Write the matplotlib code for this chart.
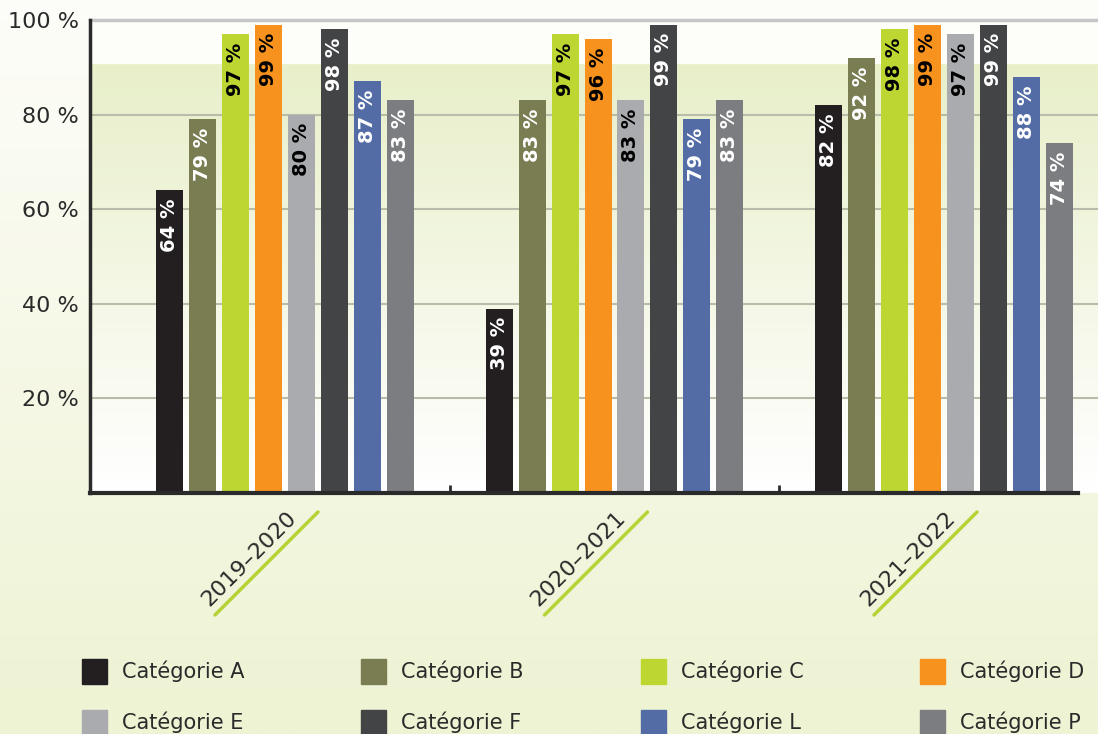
import numpy as np
import matplotlib.pyplot as plt
import matplotlib.transforms as mtransforms
from matplotlib.colors import LinearSegmentedColormap
from matplotlib.patches import Rectangle

plt.rcParams['font.family'] = ['DejaVu Sans']

# ===== データ =====
SEASONS    = ["2019–2020", "2020–2021", "2021–2022"]
CATEGORIES = ["Catégorie A", "Catégorie B", "Catégorie C", "Catégorie D",
              "Catégorie E", "Catégorie F", "Catégorie L", "Catégorie P"]
VAL_2019 = [64, 79, 97, 99, 80, 98, 87, 83]
VAL_2020 = [39, 83, 97, 96, 83, 99, 79, 83]
VAL_2021 = [82, 92, 98, 99, 97, 99, 88, 74]
Y_TICKS  = [20, 40, 60, 80, 100]

# ===== スタイル =====
COLORS = ["#231f20", "#7a7d52", "#bdd631", "#f7921e",
          "#aaabae", "#434446", "#536ca6", "#7c7d81"]
LABEL_COLORS = ["white", "white", "black", "black",
                "black", "white", "white", "white"]
TEXT_COLOR = "#2a2a2a"
W, H = 1098, 734

fig = plt.figure(figsize=(W / 100, H / 100), dpi=100)

# 背景グラデーション
grad = np.linspace(0, 1, 256).reshape(-1, 1)
bg = fig.add_axes([0, 0, 1, 1], zorder=-10)
bg.axis("off")
bg.imshow(grad, aspect="auto", origin="upper", extent=(0, 1, 0, 1),
          cmap=LinearSegmentedColormap.from_list("bg", ["#fdfdf9", "#eef3d3"]))

# ===== メイン軸 =====
left_px, right_px, top_px, bottom_px = 90, 1098, 20, 493
ax = fig.add_axes([left_px / W, 1 - bottom_px / H,
                   (right_px - left_px) / W, (bottom_px - top_px) / H])
ax.set_facecolor("none")

group_px, center0_px = 329.5, 285
x0 = (left_px - center0_px) / group_px
x1 = (right_px - center0_px) / group_px

ax.imshow(grad, aspect="auto", origin="lower", extent=(x0, x1, 0, 91), zorder=0,
          cmap=LinearSegmentedColormap.from_list("in", ["#ffffff", "#e8efc9"]))
ax.axhspan(91, 100, color="#fdfdf9", zorder=0)
ax.set_xlim(x0, x1)
ax.set_ylim(0, 100)

for y in Y_TICKS[:-1]:
    ax.axhline(y, color="#b9bca8", lw=1.5, zorder=1)
ax.axhline(100, color="#c6c6c6", lw=2.5, zorder=1, clip_on=False)

# 棒グラフ
series = [VAL_2019, VAL_2020, VAL_2021]
step, width = 0.1, 0.082
for k in range(len(CATEGORIES)):
    xs = np.arange(len(SEASONS)) + (k - 3.5) * step
    vals = [s[k] for s in series]
    ax.bar(xs, vals, width=width, color=COLORS[k], zorder=2)
    for x, v in zip(xs, vals):
        ax.annotate(f"{v} %", xy=(x, v), xytext=(0, -6), textcoords="offset points",
                    rotation=90, ha="center", va="top", fontsize=14,
                    fontweight="bold", color=LABEL_COLORS[k], zorder=3)

# 軸
for s in ["top", "right"]:
    ax.spines[s].set_visible(False)
ax.spines["left"].set_color(TEXT_COLOR)
ax.spines["left"].set_linewidth(2.5)
ax.spines["bottom"].set_color(TEXT_COLOR)
ax.spines["bottom"].set_linewidth(3)
ax.spines["bottom"].set_bounds(x0, (1078 - center0_px) / group_px)

ax.set_yticks(Y_TICKS)
ax.set_yticklabels([f"{t} %" for t in Y_TICKS])
ax.tick_params(axis="y", length=0, pad=8, labelsize=16, labelcolor=TEXT_COLOR)
ax.set_xticks([0.5, 1.5])
ax.set_xticklabels([])
ax.tick_params(axis="x", direction="in", length=6, width=2, color=TEXT_COLOR)

# 年度ラベル + 下線
trans = ax.get_xaxis_transform()
for i, season in enumerate(SEASONS):
    ax.annotate(season, xy=(i, 0), xycoords=trans, xytext=(-76, -114),
                textcoords="offset pixels", rotation=45, rotation_mode="anchor",
                ha="left", va="baseline", fontsize=16, color=TEXT_COLOR,
                annotation_clip=False)
    ax.annotate("", xy=(i, 0),
                xycoords=mtransforms.offset_copy(trans, fig=fig, x=33, y=-19, units="dots"),
                xytext=(i, 0),
                textcoords=mtransforms.offset_copy(trans, fig=fig, x=-70, y=-122, units="dots"),
                arrowprops=dict(arrowstyle="-", color="#b5d334", lw=2.5,
                                shrinkA=0, shrinkB=0),
                annotation_clip=False)

# ===== 凡例 =====
for k, cat in enumerate(CATEGORIES):
    row, col = divmod(k, 4)
    px = 82 + col * 279.3
    py = 671 + row * 51
    fig.patches.append(Rectangle((px / W, 1 - (py + 12.5) / H), 25 / W, 25 / H,
                                 transform=fig.transFigure, color=COLORS[k]))
    fig.text((px + 40) / W, 1 - py / H, cat, va="center", ha="left",
             fontsize=15, color=TEXT_COLOR)

plt.savefig("out.png", dpi=100)
